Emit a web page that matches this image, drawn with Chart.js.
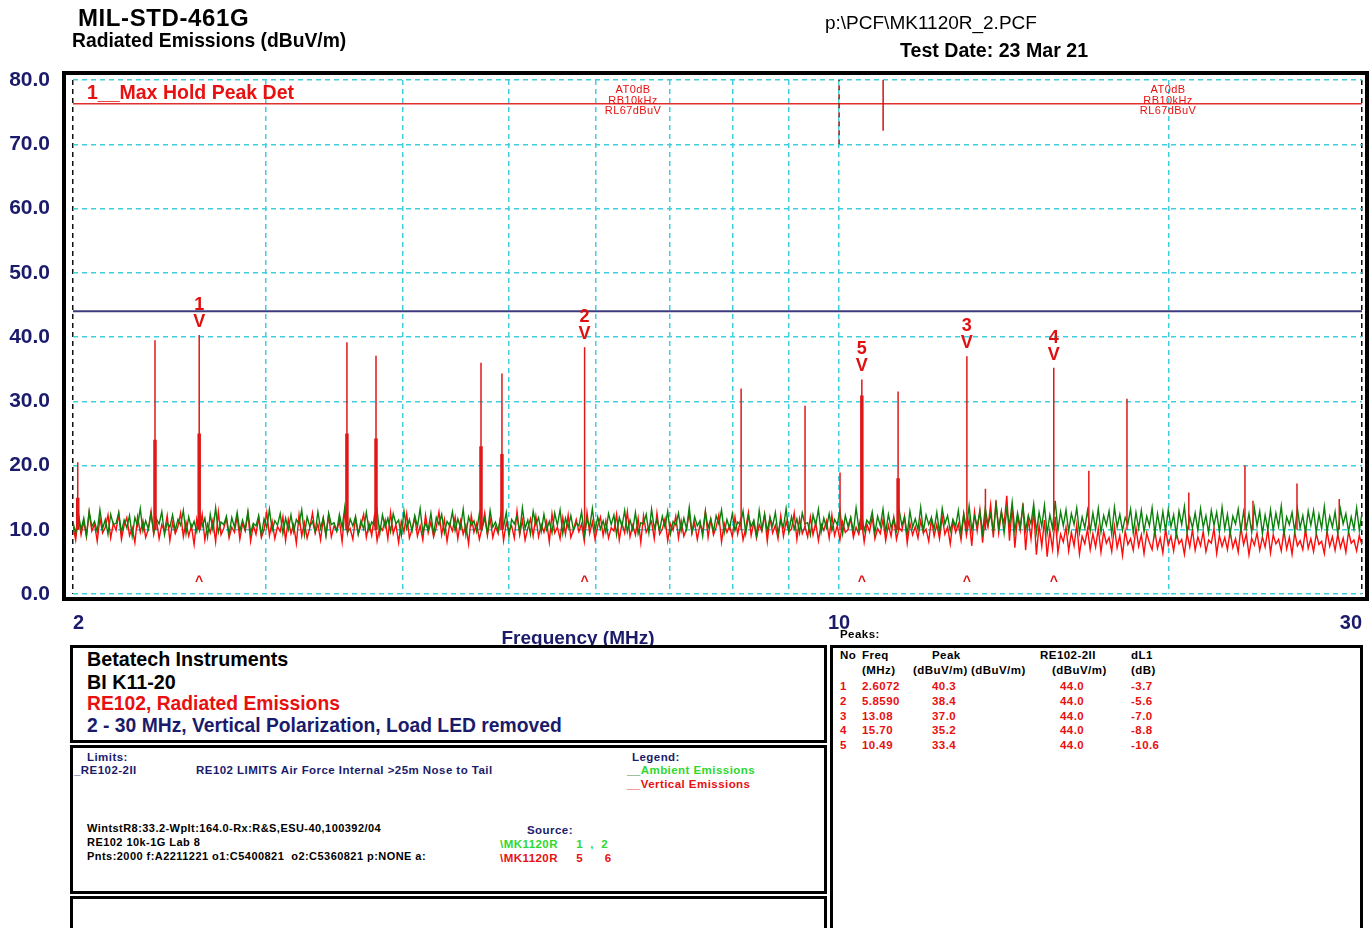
<!DOCTYPE html>
<html><head><meta charset="utf-8">
<script src="https://cdn.jsdelivr.net/npm/chart.js@4.4.1/dist/chart.umd.min.js"></script>
<style>
html,body{margin:0;padding:0;background:#fff;}
body{width:1372px;height:928px;position:relative;overflow:hidden;font-family:"Liberation Sans",Arial,sans-serif;}
.t{position:absolute;white-space:pre;line-height:1;}
.b{font-weight:bold;}
.box{position:absolute;border:3px solid #000;box-sizing:border-box;background:#fff;}
#cv{position:absolute;left:0;top:0;width:1379px;height:634px;}
.s{font-size:11.5px;font-weight:bold;letter-spacing:0.45px;}
.navy{color:#1b1b6b;}
.red{color:#e81010;}
.grn{color:#2ed82e;}
</style></head><body>
<canvas id="cv" width="1379" height="634"></canvas>
<div style="position:absolute;left:62px;top:71px;width:1307px;height:530px;border:4px solid #000;box-sizing:border-box;"></div>

<div class="t b" style="left:78px;top:6px;font-size:24px;letter-spacing:0.6px;color:#000;">MIL-STD-461G</div>
<div class="t b" style="left:72px;top:31px;font-size:19.3px;color:#000;">Radiated Emissions (dBuV/m)</div>
<div class="t" style="left:825px;top:13px;font-size:19px;color:#000;">p:\PCF\MK1120R_2.PCF</div>
<div class="t b" style="left:900px;top:41px;font-size:19.6px;color:#000;">Test Date: 23 Mar 21</div>
<div class="t b red" style="left:87px;top:83px;font-size:19.5px;">1__Max Hold Peak Det</div>
<div class="t red" style="left:593px;top:84px;font-size:11px;letter-spacing:0.4px;width:80px;text-align:center;line-height:10.5px;">AT0dB
RB10kHz
RL67dBuV</div>
<div class="t red" style="left:1128px;top:84px;font-size:11px;letter-spacing:0.4px;width:80px;text-align:center;line-height:10.5px;">AT0dB
RB10kHz
RL67dBuV</div>
<div class="t b navy" style="left:428px;top:628px;font-size:19px;width:300px;text-align:center;">Frequency (MHz)</div>
<div class="t s" style="left:840px;top:629px;color:#000;">Peaks:</div>

<div class="box" style="left:70px;top:645px;width:757px;height:98px;"></div>
<div class="t b" style="left:87px;top:650px;font-size:19.7px;color:#000;">Betatech Instruments</div>
<div class="t b" style="left:87px;top:673px;font-size:19.7px;color:#000;">BI K11-20</div>
<div class="t b red" style="left:87px;top:694px;font-size:19.3px;">RE102, Radiated Emissions</div>
<div class="t b navy" style="left:87px;top:716px;font-size:19.3px;">2 - 30 MHz, Vertical Polarization, Load LED removed</div>

<div class="box" style="left:70px;top:745px;width:757px;height:149px;"></div>
<div class="t s navy" style="left:87px;top:752px;">Limits:</div>
<div class="t s navy" style="left:74px;top:765px;">_RE102-2II</div>
<div class="t s navy" style="left:196px;top:765px;">RE102 LIMITS Air Force Internal &gt;25m Nose to Tail</div>
<div class="t s navy" style="left:632px;top:752px;">Legend:</div>
<div class="t s grn" style="left:627px;top:765px;"><span style="color:#0a700a">__</span>Ambient Emissions</div>
<div class="t s red" style="left:627px;top:779px;">__Vertical Emissions</div>
<div class="t s" style="left:87px;top:823px;color:#000;font-size:11px;">WintstR8:33.2-Wplt:164.0-Rx:R&amp;S,ESU-40,100392/04</div>
<div class="t s" style="left:87px;top:837px;color:#000;font-size:11px;">RE102 10k-1G Lab 8</div>
<div class="t s" style="left:87px;top:851px;color:#000;font-size:11px;">Pnts:2000 f:A2211221 o1:C5400821  o2:C5360821 p:NONE a:</div>
<div class="t s navy" style="left:527px;top:825px;">Source:</div>
<div class="t s grn" style="left:500px;top:839px;">\MK1120R     1  ,  2</div>
<div class="t s red" style="left:500px;top:853px;">\MK1120R     5      6</div>

<div class="box" style="left:70px;top:896px;width:757px;height:80px;"></div>
<div class="box" style="left:830px;top:645px;width:533px;height:330px;"></div>
<div id="peaks"></div>

<script>
// ---------------- data ----------------
const sweepStartMHz = 2;
const sweepStopMHz = 30;
const xTickLabels = [2, 10, 30];
const xGridFreqs = [2, 3, 4, 5, 6, 7, 8, 9, 10, 20, 30];

// Vertical Emissions (red) noise floor, dBuV/m, one value per sweep bin
const redNoise = [
10.6, 8.4, 12.1, 9.2, 11.3, 8.9, 12.7, 9.8, 10.9, 8.2, 11.8, 9.5, 10.4, 12.3, 8.7, 11.0, 9.9, 12.5, 8.5, 10.7,
11.9, 9.1, 10.3, 8.0, 12.0, 9.6, 11.4, 8.8, 10.1, 12.9, 9.3, 11.6, 8.6, 10.8, 9.7, 12.2, 8.3, 11.1, 9.4, 10.5,
12.6, 8.9, 11.2, 9.0, 10.6, 7.7, 11.7, 9.9, 12.4, 8.4, 10.9, 9.5, 11.5, 8.1, 12.8, 9.2, 10.2, 11.8, 8.7, 10.4,
9.6, 12.1, 8.5, 11.0, 9.8, 12.5, 8.2, 10.7, 9.3, 11.9, 8.8, 10.0, 12.7, 9.1, 11.3, 8.6, 10.5, 9.7, 12.0, 8.3,
11.6, 9.4, 10.8, 7.9, 12.3, 9.0, 11.1, 8.7, 10.3, 12.6, 9.5, 10.9, 8.4, 11.7, 9.2, 12.2, 8.9, 10.6, 9.8, 11.4,
8.1, 12.9, 9.6, 10.2, 8.5, 11.8, 9.3, 10.7, 12.4, 8.8, 11.0, 9.1, 12.1, 8.3, 10.5, 9.9, 11.5, 8.6, 12.7, 9.4,
10.8, 8.0, 11.3, 9.7, 12.5, 8.7, 10.1, 11.9, 9.0, 10.6, 8.4, 12.3, 9.5, 11.2, 8.9, 10.4, 12.8, 9.2, 11.6, 8.2,
10.9, 9.8, 12.0, 8.6, 11.4, 9.3, 10.7, 7.8, 12.2, 9.6, 11.0, 8.5, 10.3, 12.6, 9.1, 11.8, 8.8, 10.5, 9.4, 12.4,
8.3, 11.1, 9.9, 10.6, 8.7, 12.9, 9.2, 11.5, 8.4, 10.2, 11.7, 9.0, 12.1, 8.9, 10.8, 9.6, 11.3, 8.1, 12.5, 9.5,
10.4, 8.6, 11.9, 9.3, 12.3, 8.8, 10.0, 11.6, 9.7, 10.9, 8.2, 12.7, 9.4, 11.2, 8.5, 10.6, 12.0, 9.1, 11.4, 8.7,
10.3, 9.8, 12.4, 8.4, 11.0, 9.5, 12.8, 8.9, 10.7, 9.2, 11.8, 8.0, 12.2, 9.6, 10.5, 11.3, 8.6, 12.6, 9.3, 10.1,
11.7, 8.3, 10.9, 9.9, 12.1, 8.7, 11.4, 9.0, 10.2, 12.5, 9.4, 11.1, 8.5, 10.8, 9.7, 12.9, 8.8, 11.6, 9.2, 10.4,
12.3, 8.1, 11.0, 9.6, 10.6, 8.9, 12.0, 9.3, 11.5, 8.4, 10.3, 12.7, 9.1, 11.2, 8.7, 10.8, 9.8, 12.4, 8.2, 11.9,
9.5, 10.7, 8.6, 12.2, 9.0, 11.3, 9.7, 10.1, 12.6, 8.5, 11.7, 9.4, 10.5, 8.9, 12.0, 9.2, 11.1, 8.3, 10.9, 9.9,
11.4, 8.7, 12.3, 9.1, 10.6, 8.4, 11.2, 9.6, 10.0, 11.8, 8.8, 10.4, 9.3, 11.5, 8.1, 10.9, 9.7, 12.0, 8.6, 10.2,
9.4, 11.6, 8.3, 10.7, 9.0, 11.9, 8.5, 10.3, 9.8, 12.1, 7.9, 11.0, 9.2, 10.5, 8.7, 11.4, 9.5, 10.1, 8.2, 11.7,
9.0, 10.8, 8.6, 12.0, 9.3, 10.4, 7.8, 11.3, 9.6, 10.9, 8.4, 12.4, 9.1, 11.6, 7.5, 12.8, 9.8, 13.1, 8.0, 12.2,
10.4, 13.9, 8.8, 14.6, 9.5, 12.7, 10.9, 15.3, 8.3, 13.5, 7.2, 12.1, 9.9, 14.1, 6.8, 11.8, 8.6, 13.0, 6.1, 10.7,
7.4, 11.5, 5.8, 9.9, 7.0, 12.0, 6.4, 9.3, 8.1, 10.4, 6.7, 9.6, 7.5, 10.8, 6.2, 9.0, 7.8, 10.1, 6.9, 9.4,
7.3, 10.2, 6.5, 9.7, 7.9, 8.8, 6.6, 10.5, 7.2, 9.1, 6.0, 9.8, 7.7, 8.6, 6.8, 10.3, 7.4, 9.2, 6.3, 9.5,
8.0, 6.9, 9.9, 7.1, 8.7, 6.4, 10.1, 7.6, 9.0, 6.7, 9.6, 7.8, 8.5, 6.2, 9.4, 7.3, 10.0, 6.8, 8.9, 7.5,
9.7, 6.6, 8.4, 7.9, 10.2, 6.3, 9.1, 7.4, 8.8, 6.9, 9.8, 7.2, 8.6, 6.5, 10.4, 7.7, 9.3, 6.1, 8.7, 7.6,
9.5, 6.8, 8.9, 7.3, 10.0, 6.4, 9.2, 7.8, 8.5, 6.7, 9.9, 7.0, 8.8, 6.2, 9.6, 7.5, 8.3, 6.9, 10.1, 7.1,
8.6, 6.6, 9.4, 7.7, 8.2, 6.3, 9.8, 7.4, 8.9, 6.8, 9.3, 7.2, 8.7, 6.5, 9.7, 7.9, 8.4, 6.7, 9.1, 7.6
];

// Ambient Emissions (green) noise floor, dBuV/m
const greenNoise = [
11.2, 9.4, 12.6, 10.0, 11.8, 9.1, 12.9, 10.5, 11.3, 9.7, 13.1, 10.2, 11.6, 9.3, 12.4, 10.8, 11.0, 12.7, 9.6, 11.5,
10.3, 12.2, 9.0, 11.9, 10.6, 13.3, 9.8, 11.4, 10.1, 12.5, 9.5, 11.7, 10.9, 12.8, 9.2, 11.1, 10.4, 12.3, 9.9, 11.6,
10.7, 13.0, 9.4, 12.0, 10.2, 11.3, 9.7, 12.6, 10.5, 11.8, 8.9, 12.4, 10.0, 13.4, 9.6, 11.2, 10.8, 12.1, 9.3, 11.9,
10.4, 12.7, 9.8, 11.5, 10.1, 12.9, 9.5, 11.0, 10.6, 12.2, 9.1, 11.7, 10.3, 13.2, 9.9, 11.4, 10.7, 12.5, 9.4, 11.8,
10.0, 12.3, 9.7, 11.6, 10.9, 13.1, 9.2, 12.0, 10.5, 11.3, 9.6, 12.8, 10.2, 11.9, 9.0, 12.6, 10.8, 11.1, 9.8, 12.4,
10.3, 13.5, 9.5, 11.7, 10.6, 12.1, 9.3, 11.4, 10.1, 12.7, 9.9, 11.2, 10.7, 13.0, 9.4, 12.3, 10.4, 11.8, 9.7, 12.5,
10.9, 11.5, 9.1, 12.9, 10.2, 11.6, 9.8, 12.2, 10.5, 13.3, 9.6, 11.0, 10.0, 12.6, 9.3, 11.9, 10.8, 12.4, 9.5, 11.3,
10.6, 12.8, 9.9, 11.7, 10.3, 13.2, 9.2, 12.0, 10.7, 11.4, 9.7, 12.5, 10.1, 11.8, 9.4, 13.0, 10.4, 11.2, 9.8, 12.3,
10.5, 12.7, 9.0, 11.6, 10.9, 12.1, 9.6, 13.4, 10.2, 11.5, 9.3, 12.9, 10.8, 11.9, 9.7, 12.4, 10.0, 11.3, 9.5, 12.6,
10.7, 13.1, 9.4, 11.8, 10.3, 12.2, 9.9, 11.0, 10.6, 12.8, 9.1, 11.7, 10.4, 13.3, 9.8, 12.0, 10.1, 11.4, 9.6, 12.5,
10.8, 12.3, 9.2, 11.9, 10.5, 13.0, 9.7, 11.5, 10.0, 12.7, 9.4, 11.1, 10.9, 12.4, 9.5, 13.2, 10.2, 11.6, 9.9, 12.1,
10.4, 12.9, 9.3, 11.3, 10.7, 12.6, 9.8, 11.8, 10.1, 13.5, 9.6, 12.0, 10.6, 11.4, 9.0, 12.8, 10.3, 11.7, 9.7, 12.2,
10.9, 13.1, 9.5, 11.6, 10.2, 12.5, 9.9, 11.2, 10.8, 12.9, 9.4, 12.1, 10.5, 11.5, 9.1, 13.0, 10.0, 12.4, 9.8, 11.9,
10.6, 12.7, 9.3, 11.4, 10.4, 13.3, 9.7, 12.0, 10.1, 11.7, 9.5, 12.6, 10.9, 11.1, 9.2, 12.3, 10.7, 13.2, 9.6, 11.8,
10.3, 12.5, 9.9, 11.6, 10.8, 13.0, 9.4, 12.2, 10.5, 11.9, 9.7, 13.4, 10.2, 12.6, 9.8, 11.5, 10.9, 12.8, 9.5, 12.1,
10.6, 13.2, 9.6, 12.4, 10.3, 11.8, 9.9, 13.1, 10.7, 12.0, 9.3, 12.9, 10.4, 11.7, 10.0, 13.5, 9.7, 12.3, 10.8, 11.9,
10.1, 12.7, 9.5, 13.3, 10.9, 12.2, 9.8, 11.6, 10.5, 13.0, 9.4, 12.5, 10.2, 13.7, 9.9, 12.1, 10.6, 12.8, 9.6, 13.4,
10.8, 12.4, 9.7, 13.9, 10.3, 12.9, 9.5, 13.2, 10.7, 14.3, 9.8, 12.6, 10.4, 13.6, 9.9, 12.2, 10.9, 14.0, 9.6, 12.7,
10.5, 13.8, 9.4, 12.3, 10.2, 14.5, 9.9, 12.8, 10.6, 13.1, 9.7, 12.5, 10.8, 13.4, 9.5, 12.0, 10.3, 13.0, 9.8, 12.6,
10.1, 13.3, 9.6, 12.2, 10.7, 12.9, 9.3, 13.5, 10.4, 12.4, 9.9, 11.9, 10.9, 13.2, 9.5, 12.7, 10.2, 13.0, 9.7, 12.1,
10.6, 13.4, 9.4, 12.5, 10.0, 12.8, 9.8, 13.1, 10.5, 12.3, 9.2, 12.9, 10.8, 13.6, 9.6, 12.0, 10.3, 12.6, 9.9, 13.3,
10.4, 12.2, 9.5, 13.0, 10.7, 12.7, 9.7, 13.5, 10.1, 12.4, 9.3, 12.1, 10.9, 13.2, 9.8, 12.8, 10.2, 12.5, 9.6, 13.4,
10.6, 12.9, 9.4, 12.3, 10.0, 13.1, 9.9, 12.6, 10.5, 13.7, 9.2, 12.0, 10.8, 12.7, 9.7, 13.3, 10.3, 12.2, 9.5, 12.9,
10.7, 13.0, 9.6, 12.4, 10.2, 13.6, 9.8, 12.1, 10.4, 12.8, 9.3, 13.2, 10.9, 12.5, 9.7, 12.0, 10.1, 13.4, 9.9, 12.6
];

// discrete emissions (red spikes)
const spikeFreqs     = [2.02, 2.376, 2.6072, 3.556, 3.78, 4.713, 4.925, 5.859, 8.14, 9.31, 10.02, 10.49, 11.32, 13.08, 13.6, 15.70, 16.9, 18.31, 20.85, 23.46, 23.86, 26.17, 28.6];
const spikeLevels    = [20.5, 39.5, 40.3, 39.2, 37.1, 36.0, 34.3, 38.4, 32.0, 29.3, 18.9, 33.4, 31.5, 37.0, 16.4, 35.2, 19.2, 30.4, 15.8, 20.0, 14.5, 17.2, 14.8];
const spikeShoulders = [15.0, 24.0, 25.0, 25.0, 24.2, 23.0, 21.8, null, null, null, null, 30.9, 18.0, null, null, null, null, null, null, null, null, null, null];
const spikeBase = 10;

// peak table
const peakNos        = [1, 2, 3, 4, 5];
const peakFreqs      = [2.6072, 5.8590, 13.08, 15.70, 10.49];
const peakFreqLabels = ["2.6072", "5.8590", "13.08", "15.70", "10.49"];
const peakLevels     = [40.3, 38.4, 37.0, 35.2, 33.4];
const peakLimits     = [44.0, 44.0, 44.0, 44.0, 44.0];
const peakDeltas     = [-3.7, -5.6, -7.0, -8.8, -10.6];
const caretLevel = 2.3;

// limit and reference lines
const limitLevel = 44.0;
const refLevel = 76.3;
const refMarkerFreq = 10.97;
const refMarkerLow = 72.1;
const dividerFreq = 10;
const dividerLow = 70;

// ---------------- build ----------------
const navy = '#1b1b6b';
const fam = '"Liberation Sans", Arial, sans-serif';
const sweep = i => sweepStartMHz * Math.pow(sweepStopMHz / sweepStartMHz, i / (redNoise.length - 1));
const redPts = redNoise.map((v, i) => ({x: sweep(i), y: v}));
const greenPts = greenNoise.map((v, i) => ({x: sweep(i), y: v}));
const spikePts = [];
const shoulderPts = [];
spikeFreqs.forEach((f, i) => {
  spikePts.push({x: f, y: spikeBase}, {x: f, y: spikeLevels[i]}, {x: f, y: null});
  if (spikeShoulders[i] !== null) shoulderPts.push({x: f, y: spikeBase}, {x: f, y: spikeShoulders[i]}, {x: f, y: null});
});

const markerPlugin = {
  id: 'markers',
  afterDatasetsDraw(chart) {
    const {ctx, scales: {x, y}} = chart;
    ctx.save();
    ctx.fillStyle = '#e01010';
    ctx.textAlign = 'center';
    peakFreqs.forEach((f, i) => {
      const px = x.getPixelForValue(f);
      const py = y.getPixelForValue(peakLevels[i]);
      ctx.font = 'bold 18px ' + fam;
      ctx.textBaseline = 'middle';
      ctx.fillText(String(peakNos[i]), px, py - 30);
      ctx.fillText('V', px, py - 13);
      ctx.font = 'bold 14px ' + fam;
      ctx.textBaseline = 'alphabetic';
      ctx.fillText('^', px, y.getPixelForValue(caretLevel) + 7);
    });
    ctx.restore();
  }
};

const line = (data, color, width, extra) => Object.assign({data, borderColor: color, borderWidth: width, pointRadius: 0, fill: false, tension: 0, spanGaps: false}, extra || {});

new Chart(document.getElementById('cv'), {
  type: 'line',
  data: {
    datasets: [
      line(spikePts, '#e01818', 1.5),
      line(shoulderPts, '#e01818', 3.5),
      line([{x: refMarkerFreq, y: refMarkerLow}, {x: refMarkerFreq, y: 80}], '#d01515', 1.5),
      line([{x: dividerFreq, y: dividerLow}, {x: dividerFreq, y: 80}], '#8b1a1a', 1.5, {borderDash: [5, 4]}),
      line([{x: sweepStartMHz, y: refLevel}, {x: sweepStopMHz, y: refLevel}], '#e03030', 1.5),
      line([{x: sweepStartMHz, y: limitLevel}, {x: sweepStopMHz, y: limitLevel}], '#3b3b7d', 2),
      line(greenPts, '#0a800a', 1.4),
      line(redPts, '#ff0a0a', 1.4)
    ]
  },
  options: {
    responsive: false, animation: false, devicePixelRatio: 1,
    layout: {padding: {left: 0, right: 10, top: 80, bottom: 0}},
    plugins: {legend: {display: false}, tooltip: {enabled: false}},
    scales: {
      x: {
        type: 'logarithmic', min: sweepStartMHz, max: sweepStopMHz,
        afterBuildTicks(s) { s.ticks = xGridFreqs.map(v => ({value: v})); },
        afterFit(s) { s.height = 40; },
        grid: {color: c => (c.tick && (c.tick.value === 2 || c.tick.value === 30)) ? '#111' : '#3fd0e0', lineWidth: 1.5, drawTicks: false},
        border: {display: false, dash: [5, 4]},
        ticks: {autoSkip: false, maxRotation: 0, minRotation: 0, align: 'inner', padding: 17, color: navy,
          font: {family: fam, size: 20, weight: 'bold'},
          callback: v => xTickLabels.includes(v) ? String(v) : ''}
      },
      y: {
        min: 0, max: 80,
        afterFit(s) { s.width = 73; },
        grid: {color: '#3fd0e0', lineWidth: 1.5, drawTicks: false},
        border: {display: false, dash: [5, 4]},
        ticks: {stepSize: 10, padding: 23, color: navy, font: {family: fam, size: 21, weight: 'bold'},
          callback: v => Number(v).toFixed(1)}
      }
    }
  },
  plugins: [markerPlugin]
});

// peaks table text
const pk = document.getElementById('peaks');
const put = (x, y, txt, color) => {
  const d = document.createElement('div');
  d.className = 't s';
  d.style.left = x + 'px'; d.style.top = y + 'px'; d.style.color = color;
  d.textContent = txt; pk.appendChild(d);
};
put(840, 650, 'No', '#000'); put(862, 650, 'Freq', '#000'); put(932, 650, 'Peak', '#000');
put(1040, 650, 'RE102-2II', '#000'); put(1131, 650, 'dL1', '#000');
put(862, 665, '(MHz)', '#000'); put(913, 665, '(dBuV/m)', '#000'); put(971, 665, '(dBuV/m)', '#000');
put(1052, 665, '(dBuV/m)', '#000'); put(1131, 665, '(dB)', '#000');
peakNos.forEach((n, i) => {
  const y = 681 + i * 14.8;
  put(840, y, String(n), '#e81010');
  put(862, y, peakFreqLabels[i], '#e81010');
  put(932, y, peakLevels[i].toFixed(1), '#e81010');
  put(1060, y, peakLimits[i].toFixed(1), '#e81010');
  put(1131, y, peakDeltas[i].toFixed(1), '#e81010');
});
</script>
</body></html>
